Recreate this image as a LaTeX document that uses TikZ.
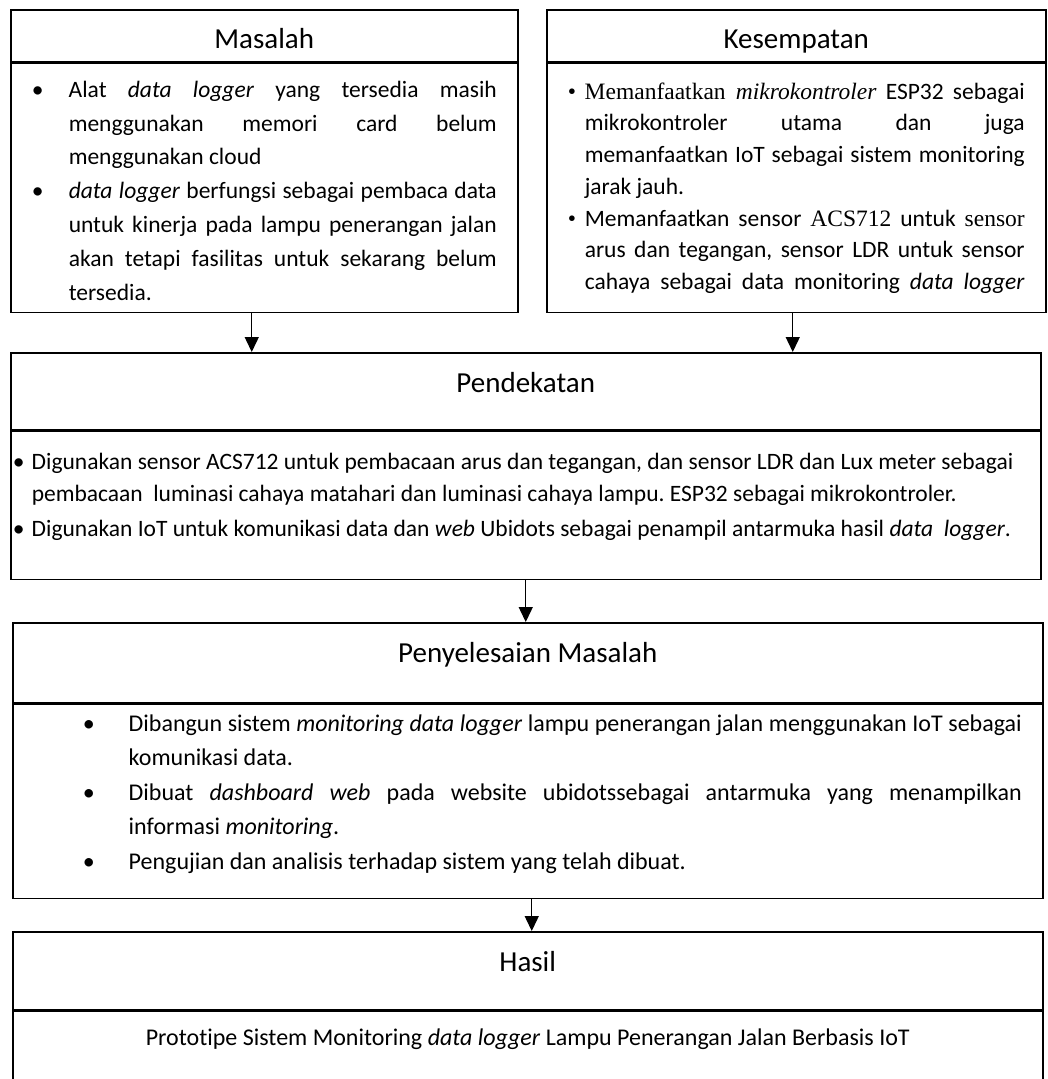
\documentclass[tikz,border=0pt]{standalone}
\usepackage{fontspec}
\setmainfont{Carlito}[Ligatures=NoCommon]
\newfontfamily\tnr{Liberation Serif}
\usetikzlibrary{positioning,arrows.meta,calc}
\tolerance=10000 \hbadness=10000 \hyphenpenalty=10000 \exhyphenpenalty=10000
\newcommand{\bul}[2][\textbullet]{\noindent\hangindent=#2\hangafter=1\makebox[#2][l]{#1}\ignorespaces}

\begin{document}
\begin{tikzpicture}[x=1pt, y=-1pt,
  hdr/.style={draw, line width=1.5pt, inner sep=0pt, anchor=north west, font=\fontsize{29}{34}\selectfont},
  bodybox/.style={draw, line width=1.5pt, inner xsep=0pt, inner ysep=0pt, anchor=north, align=justify},
  arr/.style={-{Triangle[length=15pt,width=14pt]}, line width=1.4pt}]
  \useasboundingbox (0,0) rectangle (1048,1079);

  \node[hdr, minimum width=507pt, minimum height=52pt, text height=39pt, text depth=13pt] (masalahH) at (10,9) {Masalah};
  \node[bodybox, minimum width=507pt, text width=465pt, text height=34pt, text depth=215pt,
        font=\fontsize{23.5}{33.8}\selectfont] (masalahB) at (masalahH.south) {%
    \spaceskip=0pt\xspaceskip=0pt\frenchspacing
    \bul{37pt}Alat \textit{data logger} yang tersedia masih\linebreak menggunakan memori card belum\linebreak menggunakan cloud\par
    \bul{37pt}\textit{data logger} berfungsi sebagai pembaca data\linebreak untuk kinerja pada lampu penerangan jalan\linebreak akan tetapi fasilitas untuk sekarang belum\linebreak tersedia.\par};

  \node[hdr, minimum width=499pt, minimum height=52pt, text height=39pt, text depth=13pt] (kesempatanH) at (546,9) {Kesempatan};
  \node[bodybox, minimum width=499pt, text width=457pt, text height=36pt, text depth=213pt,
        font=\fontsize{23.5}{31.7}\selectfont] (kesempatanB) at (kesempatanH.south) {%
    \spaceskip=0pt\xspaceskip=0pt\frenchspacing
    \bul[{\tnr\textbullet}]{17pt}{\tnr Memanfaatkan \textit{mikrokontroler}} ESP32 sebagai\linebreak mikrokontroler utama dan juga\linebreak memanfaatkan IoT sebagai sistem monitoring\linebreak jarak jauh.\par
    \bul[{\tnr\textbullet}]{17pt}Memanfaatkan sensor {\tnr ACS712} untuk {\tnr sensor}\linebreak arus dan tegangan, sensor LDR untuk sensor\linebreak cahaya sebagai data monitoring \textit{data logger}{\parfillskip=0pt\par}};

  \node[hdr, minimum width=1030pt, minimum height=77pt, text height=40pt, text depth=37pt] (pendekatanH) at (10,352) {Pendekatan};
  \node[bodybox, align=flush left, minimum width=1030pt, text width=1026pt, text height=38pt, text depth=110pt,
        font=\fontsize{23.5}{32}\selectfont] (pendekatanB) at (pendekatanH.south) {%
    \spaceskip=0pt\xspaceskip=0pt\frenchspacing\rightskip=0pt plus 1fil
    \bul{19pt}Digunakan sensor ACS712 untuk pembacaan arus dan tegangan, dan sensor LDR dan Lux meter sebagai\linebreak pembacaan\ \ luminasi cahaya matahari dan luminasi cahaya lampu. ESP32 sebagai mikrokontroler.\par\vspace{3pt}
    \bul{19pt}Digunakan IoT untuk komunikasi data dan \textit{web} Ubidots sebagai penampil antarmuka hasil \textit{data\ \ logger}.\par};

  \node[hdr, minimum width=1030pt, minimum height=80pt, text height=40pt, text depth=40pt] (penyelesaianH) at (12,622) {Penyelesaian Masalah};
  \node[bodybox, minimum width=1030pt, text width=988pt, text height=27pt, text depth=167pt,
        font=\fontsize{24}{34.5}\selectfont] (penyelesaianB) at (penyelesaianH.south) {%
    \spaceskip=0pt\xspaceskip=0pt\frenchspacing\leftskip=49pt
    \bul{46pt}Dibangun sistem \textit{monitoring data logger} lampu penerangan jalan menggunakan IoT sebagai\linebreak komunikasi data.\par
    \bul{46pt}Dibuat \textit{dashboard web} pada website ubidotssebagai antarmuka yang menampilkan\linebreak informasi \textit{monitoring}.\par
    \bul{46pt}Pengujian dan analisis terhadap sistem yang telah dibuat.\par};

  \node[hdr, minimum width=1030pt, minimum height=78pt, text height=40pt, text depth=38pt] (hasilH) at (12,931) {Hasil};
  \node[bodybox, align=flush center, minimum width=1030pt, text width=1000pt, text height=34pt, text depth=57pt,
        font=\fontsize{24}{32}\selectfont] (hasilB) at (hasilH.south) {%
    \spaceskip=0pt\xspaceskip=0pt
    Prototipe Sistem Monitoring \textit{data logger} Lampu Penerangan Jalan Berbasis IoT\par};

  \draw[arr] ($(masalahB.south)+(-12.5,0)$) -- ($(masalahB.south |- pendekatanH.north)+(-12.5,0)$);
  \draw[arr] ($(kesempatanB.south)+(-3.5,0)$) -- ($(kesempatanB.south |- pendekatanH.north)+(-3.5,0)$);
  \draw[arr] (pendekatanB.south) -- (pendekatanB.south |- penyelesaianH.north);
  \draw[arr] ($(penyelesaianB.south)+(4,0)$) -- ($(penyelesaianB.south |- hasilH.north)+(4,0)$);
\end{tikzpicture}
\end{document}
